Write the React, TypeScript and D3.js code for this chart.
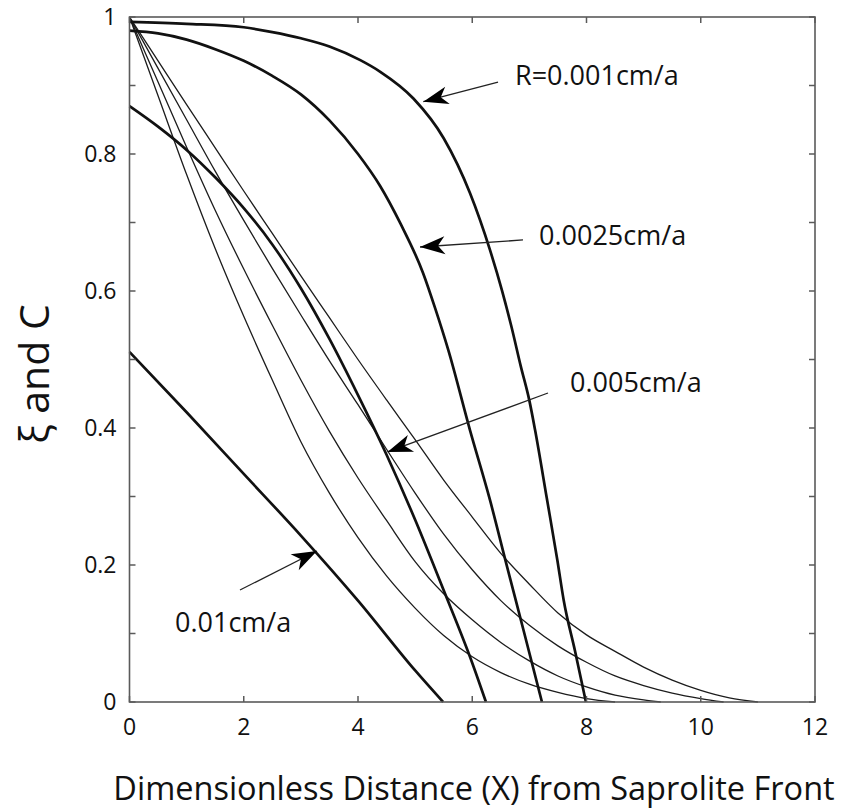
import React from "react";
import * as d3 from "d3";

type P = [number, number];

// Thick curves (xi) for each R
const xiR001: P[] = [[0,0.993],[1,0.99],[2,0.985],[2.5,0.978],[3,0.969],[3.5,0.957],[4.04,0.937],[4.39,0.92],[4.97,0.881],[5.5,0.823],[5.96,0.743],[6.31,0.66],[6.52,0.601],[6.68,0.55],[6.85,0.49],[7.0,0.44],[7.1,0.397],[7.3,0.3],[7.49,0.207],[7.6,0.149],[7.8,0.074],[7.99,0]];
const xiR0025: P[] = [[0,0.98],[0.5,0.976],[1,0.967],[1.5,0.953],[2,0.936],[2.5,0.914],[3,0.887],[3.5,0.849],[4,0.8],[4.39,0.753],[4.74,0.699],[5.14,0.626],[5.35,0.575],[5.58,0.514],[5.96,0.397],[6.31,0.295],[6.58,0.207],[6.9,0.104],[7.22,0]];
const xiR005: P[] = [[0,0.87],[0.5,0.84],[1,0.806],[1.5,0.766],[2,0.721],[2.5,0.668],[3,0.604],[3.5,0.53],[4,0.448],[4.5,0.361],[5,0.266],[5.5,0.163],[6,0.057],[6.24,0]];
const xiR01: P[] = [[0,0.511],[1,0.423],[2,0.333],[3,0.243],[4,0.148],[5,0.046],[5.49,0]];

// Thin curves (C)
const c1: P[] = [[0,1],[0.5,0.885],[1,0.77],[1.5,0.662],[2,0.563],[2.5,0.47],[3,0.38],[3.5,0.305],[4,0.24],[4.5,0.184],[5,0.137],[5.5,0.097],[6,0.066],[6.5,0.043],[7,0.026],[7.5,0.014],[8,0.005],[8.5,0]];
const c2: P[] = [[0,1],[0.5,0.905],[1,0.81],[1.5,0.718],[2,0.632],[2.5,0.55],[3,0.47],[3.5,0.395],[4,0.327],[4.5,0.265],[5,0.205],[5.5,0.158],[6,0.12],[6.5,0.087],[7,0.06],[7.5,0.038],[8,0.022],[8.5,0.01],[9,0.003],[9.3,0]];
const c3: P[] = [[0,1],[0.5,0.925],[1,0.85],[1.5,0.775],[2,0.703],[2.5,0.633],[3,0.565],[3.5,0.498],[4,0.434],[4.5,0.369],[5,0.305],[5.5,0.245],[6,0.193],[6.5,0.148],[7,0.112],[7.5,0.082],[8,0.058],[8.5,0.038],[9,0.024],[9.5,0.013],[10,0.005],[10.4,0]];
const c4: P[] = [[0,1],[0.5,0.936],[1,0.872],[1.5,0.809],[2,0.746],[2.5,0.684],[3,0.622],[3.5,0.561],[4,0.5],[4.5,0.441],[5,0.383],[5.5,0.324],[6,0.27],[6.5,0.217],[7,0.172],[7.5,0.13],[8,0.098],[8.5,0.074],[9,0.051],[9.5,0.032],[10,0.017],[10.5,0.006],[11,0]];

const thickSeries = [xiR001, xiR0025, xiR005, xiR01];
const thinSeries = [c1, c2, c3, c4];

const xTickValues = [0, 2, 4, 6, 8, 10, 12];
const yTickLabels = [0, 0.2, 0.4, 0.6, 0.8, 1];
const yMinorTicks = [0, 0.1, 0.2, 0.3, 0.4, 0.5, 0.6, 0.7, 0.8, 0.9, 1];

// Annotations: label, text anchor (data), arrow tail (data), arrow tip (data)
const annLabels = ["R=0.001cm/a", "0.0025cm/a", "0.005cm/a", "0.01cm/a"];
const annTextPos: P[] = [[6.748, 0.9007], [7.169, 0.6672], [7.711, 0.4526], [0.7965, 0.1022]];
const annTail: P[] = [[6.451, 0.905], [6.888, 0.6745], [7.326, 0.4511], [1.934, 0.1635]];
const annTip: P[] = [[5.143, 0.8763], [5.085, 0.6642], [4.516, 0.365], [3.282, 0.2204]];

const W = 861, H = 811;
const left = 129.5, right = 815, top = 17, bottom = 702;
const font = "'Open Sans', 'DejaVu Sans', sans-serif";

export default function App() {
  const x = d3.scaleLinear().domain([0, 12]).range([left, right]);
  const y = d3.scaleLinear().domain([0, 1]).range([bottom, top]);
  const line = d3.line<P>().x(d => x(d[0])).y(d => y(d[1])).curve(d3.curveMonotoneX);
  const axisColor = "#5a5a5a";
  const tickLen = 6;

  const arrowHead = (tail: P, tip: P) => {
    const tx = x(tip[0]), ty = y(tip[1]);
    const sx = x(tail[0]), sy = y(tail[1]);
    const ang = Math.atan2(sy - ty, sx - tx);
    const L = 25, Wd = 9, notch = 18;
    const ux = Math.cos(ang), uy = Math.sin(ang);
    const px = -uy, py = ux;
    const b1 = [tx + ux * L + px * Wd, ty + uy * L + py * Wd];
    const b2 = [tx + ux * L - px * Wd, ty + uy * L - py * Wd];
    const n = [tx + ux * notch, ty + uy * notch];
    return `M${tx},${ty}L${b1[0]},${b1[1]}L${n[0]},${n[1]}L${b2[0]},${b2[1]}Z`;
  };

  return (
    <svg width={W} height={H} style={{ position: "absolute", left: 0, top: 0, background: "#fff" }}>
      <rect x={0} y={0} width={W} height={H} fill="#fff" />
      {thinSeries.map((s, i) => (
        <path key={"t" + i} d={line(s) || ""} fill="none" stroke="#1c1c1c" strokeWidth={1.3} />
      ))}
      {thickSeries.map((s, i) => (
        <path key={"k" + i} d={line(s) || ""} fill="none" stroke="#111" strokeWidth={2.7} strokeLinejoin="round" />
      ))}
      <rect x={left} y={top} width={right - left} height={bottom - top} fill="none" stroke={axisColor} strokeWidth={1.6} />
      {yMinorTicks.map(v => (
        <g key={"yt" + v}>
          <line x1={left} x2={left + tickLen} y1={y(v)} y2={y(v)} stroke={axisColor} strokeWidth={1.5} />
          <line x1={right} x2={right - tickLen} y1={y(v)} y2={y(v)} stroke={axisColor} strokeWidth={1.5} />
        </g>
      ))}
      {xTickValues.map(v => (
        <g key={"xt" + v}>
          <line x1={x(v)} x2={x(v)} y1={bottom} y2={bottom - tickLen} stroke={axisColor} strokeWidth={1.5} />
          <line x1={x(v)} x2={x(v)} y1={top} y2={top + tickLen} stroke={axisColor} strokeWidth={1.5} />
          <text x={x(v)} y={bottom + 33} textAnchor="middle" fontFamily={font} fontSize={23} fill="#111">{v}</text>
        </g>
      ))}
      {yTickLabels.map(v => (
        <text key={"yl" + v} x={left - 13} y={y(v) + 8} textAnchor="end" fontFamily={font} fontSize={23} fill="#111">{v}</text>
      ))}
      {annLabels.map((lab, i) => (
        <g key={"a" + i}>
          <line x1={x(annTail[i][0])} y1={y(annTail[i][1])} x2={x(annTip[i][0])} y2={y(annTip[i][1])} stroke="#222" strokeWidth={1.3} />
          <path d={arrowHead(annTail[i], annTip[i])} fill="#000" />
          <text x={x(annTextPos[i][0])} y={y(annTextPos[i][1])} fontFamily={font} fontSize={27} fill="#111">{lab}</text>
        </g>
      ))}
      <text x={474} y={800} textAnchor="middle" fontFamily={font} fontSize={32.5} fill="#111">Dimensionless Distance (X) from Saprolite Front</text>
      <text transform={`translate(49,374) rotate(-90)`} textAnchor="middle" fontFamily={font} fontSize={41} fill="#111">ξ and C</text>
    </svg>
  );
}
